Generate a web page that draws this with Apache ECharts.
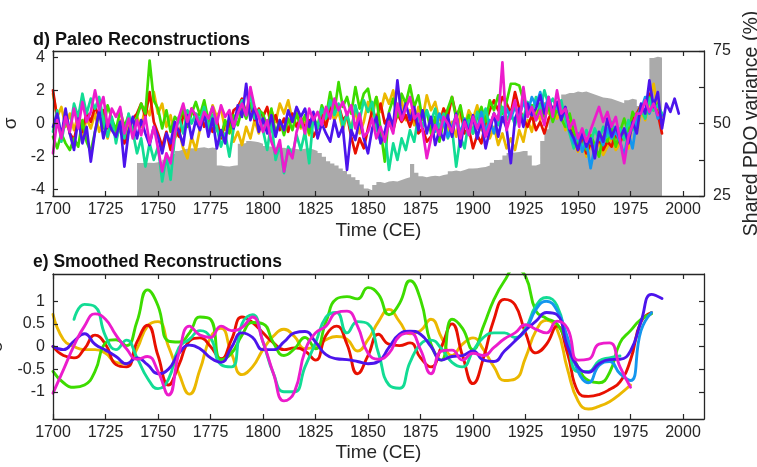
<!DOCTYPE html>
<html><head><meta charset="utf-8">
<script src="https://cdn.jsdelivr.net/npm/echarts@6/dist/echarts.min.js"></script>
<style>html,body{margin:0;padding:0;background:#fff}#c{width:757px;height:467px}</style>
</head><body><div id="c"></div>
<script>
// ---------- Panel d: annual reconstructions (2-year sampling) ----------
const dStart = 1700, dStep = 2;
const dGreen = [
 -0.8,-1.5,-0.6,-1.2,-1.6, -0.9,-1.4,0.2,-1.1,-1.7, -0.5,0.6,-0.3,1.1,0.3, -0.4,0.8,-0.2,0.5,-0.6,
 0.4,1.2,0.6,3.8,1.4, 0.9,-0.3,0.8,-0.5,0.4, 0.1,0.9,-0.2,0.6,1.3, 0.5,1.4,0.2,1.0,-0.4,
 -0.8,0.2,-0.6,0.5,-0.1, 0.9,0.3,1.2,0.5,0.8, 0.6,-0.3,0.9,-0.6,0.2, -0.7,0.3,-0.4,0.6,-0.2,
 0.5,-0.6,0.3,-0.2,1.1, 0.4,1.9,0.7,2.5,1.0, 1.6,0.6,2.2,0.9,1.8, 2.1,0.8,1.6,-0.4,-2.3,
 0.7,1.5,0.4,1.8,1.2, 2.3,1.0,1.7,0.2,0.8, -0.6,0.4,-1.1,0.1,0.9, 1.6,0.3,1.1,-0.2,0.5,
 -0.6,0.4,1.0,0.1,1.4, 0.8,1.7,0.6,1.3,2.4, 2.4,2.3,1.4,0.6,1.1, 0.2,1.2,0.4,1.0,0.1,
 0.9,0.3,-0.2,0.6,-0.5, -1.2,-0.4,-1.6,-0.7,-1.3, -2.0,-0.8,-1.1,-0.2,-1.4, -0.5,0.3,-0.6,0.7,0.2,
 1.1,0.4,1.6,0.8,1.2, 0.5];
const dYellow = [
 1.8,0.4,1.0,-0.2,0.6, -0.4,0.5,-0.8,0.3,-0.3, 0.6,-0.5,0.2,-0.9,0.1, -0.7,0.2,-1.1,0.0,-0.6,
 0.4,-0.2,1.0,0.5,1.9, 0.6,1.2,-0.2,0.5,-0.9, -0.4,-1.5,-2.1,-0.8,-1.6, -0.3,0.6,-0.2,1.1,0.4,
 0.9,-0.4,0.3,-1.1,-0.5, -1.3,-0.2,-0.9,0.2,-0.6, 0.5,-0.3,0.8,0.1,1.2, 0.6,1.4,0.2,0.8,-0.3,
 0.3,-0.7,0.4,-0.2,0.6, -0.1,0.9,0.2,0.7,-0.4, 0.5,-0.3,0.8,-0.6,0.1, 1.3,0.4,1.6,0.7,1.8,
 1.2,2.0,0.6,1.4,0.2, 0.8,-0.1,1.0,0.3,1.7, 0.8,1.3,0.2,0.9,-0.5, 0.1,-0.8,0.6,-0.2,0.8,
 0.3,1.1,-0.4,0.5,-0.9, -0.2,-1.3,-0.6,-1.5,-0.9, -1.6,-0.4,-1.1,0.2,-0.5, 0.8,0.2,1.2,0.6,1.0,
 0.3,0.8,-0.4,0.2,-1.1, -1.7,-1.0,-2.0,-1.3,-1.8, -1.1,-1.9,-1.4,-0.8,-1.6, -1.2,-0.4,-1.5,0.3,-0.5,
 0.7,0.2,1.3,2.4,0.9, 0.4];
const dRed = [
 2.0,0.3,-0.8,0.5,-0.6, -1.0,0.2,-0.5,0.7,0.1, 1.0,0.4,0.8,-0.3,0.2, -0.9,-0.2,-1.2,-0.5,0.3,
 0.6,1.2,0.4,1.9,0.1, -0.6,-1.4,-0.5,-1.6,-0.3, -0.8,0.5,0.1,0.9,0.3, 0.7,-0.2,0.4,-0.5,0.2,
 -0.9,0.1,-0.2,0.8,1.0, 1.5,0.6,1.2,0.2,0.9, 0.4,1.0,-0.2,0.5,-0.4, 0.3,-0.5,0.6,-0.2,0.4,
 -0.3,0.2,-0.8,-0.3,0.5, -0.2,1.0,0.6,1.1,0.2, 0.5,-0.8,-1.8,-0.9,-1.5, -0.3,0.8,0.3,1.2,0.0,
 0.4,-0.4,0.6,0.1,0.5, -0.2,0.6,-0.6,-0.3,-1.1, -0.8,0.2,-0.5,0.9,0.4, 1.6,0.5,0.9,-0.6,-0.3,
 -1.5,-0.7,-1.2,0.1,0.8, 1.4,0.8,1.6,1.2,0.6, 1.9,0.9,0.3,-0.2,0.5, -0.4,0.1,-0.6,0.3,0.8,
 1.0,0.4,0.9,-0.3,-0.8, -1.6,-0.9,-1.8,-1.2,-1.5, -0.9,-1.6,-1.1,-1.4,-0.6, -1.2,-0.5,-1.0,0.2,0.6,
 1.1,0.5,1.8,1.2,0.6, -0.6];
const dTeal = [
 -0.5,0.8,-1.1,0.3,-0.4, 1.2,0.4,1.8,0.6,1.5, 0.9,1.6,0.2,-0.8,0.4, -1.2,0.1,-0.9,0.6,-0.5,
 -1.8,-0.9,-2.6,-1.2,-2.2, -1.4,-3.5,-2.0,-3.4,-0.8, 0.4,-0.6,0.8,0.0,0.6, 0.2,1.0,-0.3,0.5,-0.2,
 -1.4,-0.6,-2.0,-0.3,0.6, 1.4,0.5,1.8,0.3,0.8, -0.4,-1.6,0.1,-2.2,-1.3, -3.0,-1.4,-1.9,-0.7,-1.6,
 -0.5,-2.4,0.4,-0.3,0.9, 0.3,1.4,0.5,1.2,-0.2, 0.6,-0.5,1.1,0.2,1.4, 0.7,1.3,-0.3,-1.1,-0.5,
 -2.8,-1.2,-2.2,-0.9,-1.6, -0.4,-1.1,0.5,-0.2,0.8, 0.1,0.9,-0.4,0.6,-0.9, -0.3,-2.6,-0.8,-1.5,0.2,
 -0.6,0.7,0.1,0.9,-0.2, 0.6,-0.1,1.0,0.2,0.7, -0.1,0.8,0.3,1.3,0.5, 1.6,0.8,2.0,1.1,1.5,
 0.9,1.4,0.2,-0.6,-1.5, -0.8,-1.6,-0.4,-1.2,-0.3, -1.0,-0.2,-0.8,0.1,-0.6, -0.3,-1.0,0.2,-0.4,0.5,
 0.9,0.3,1.5,0.8,1.1, 0.6];
const dLightBlueStart = 1880;
const dLightBlue = [
 0.2,-0.5,0.6,0.0,-0.8, -0.2,0.5,-0.6,0.3,-0.4, 0.4,-0.3,0.7,-0.5,0.2, -0.6,0.5,0.1,0.9,0.3,
 1.0,0.4,1.3,0.6,1.6, 1.1,1.9,0.9,1.6,0.7, 1.2,0.4,0.8,-0.4,-1.2, -0.6,-1.7,-1.1,-2.7,-1.4,
 -0.7,-1.3,-0.3,-0.9,-0.5, -1.1,-1.9,-0.6,-1.5,0.2, 0.8,1.6,0.6,1.4,0.3, 0.5];
const dViolet = [
 -0.2,0.6,-0.8,0.9,-0.6, -1.6,0.3,-1.2,-0.2,-2.3, -0.5,0.8,-0.9,0.2,-0.4, -0.8,0.1,-2.6,-0.5,0.4,
 -0.9,0.2,-0.6,-1.3,-0.2, -0.8,-1.8,-0.6,-1.2,0.1, -0.5,-1.3,0.5,-0.9,0.2, -0.4,0.6,-0.8,0.3,-1.5,
 -0.4,-1.2,0.6,-0.3,1.1, 0.4,2.4,0.2,1.0,-0.5, 0.3,-0.6,0.5,-0.8,0.2, -0.4,0.8,0.1,1.0,0.4,
 0.9,-0.2,0.7,-0.9,0.0, -0.6,-1.1,0.2,-0.8,-0.2, -2.8,-0.4,-1.0,0.3,-0.9, -1.8,-0.3,0.4,-1.2,-0.5,
 0.6,-0.2,2.6,0.3,1.2, 0.2,1.0,-0.4,0.8,-0.6, 0.4,-1.3,-0.4,-1.0,0.5, -0.8,0.6,-1.4,0.2,-0.6,
 0.5,-0.9,0.2,-1.5,-0.4, 0.6,-0.8,0.4,-0.3,-2.4, 0.3,0.9,-0.2,1.2,0.5, 0.9,1.7,0.6,1.4,0.8,
 1.3,0.2,1.0,-0.4,-0.9, -1.6,-0.6,-1.4,-0.9,-2.1, -0.5,-1.1,0.3,-0.8,-0.2, -0.9,-0.3,-1.2,0.1,-0.6,
 1.2,0.6,2.6,1.0,1.9, -0.3,1.2,0.7,1.5,0.6];
const dMagenta = [
 -1.8,0.2,-0.9,0.4,-0.5, 0.9,-0.3,1.3,0.1,0.7, 2.0,0.8,1.6,-0.2,0.9, 0.4,1.0,-0.6,0.3,-0.9,
 0.2,-0.7,0.4,-1.2,-0.2, -1.5,-2.9,-1.8,-2.4,-0.6, 0.4,1.2,0.1,0.9,0.5, -0.1,0.7,0.3,1.0,0.0,
 1.1,0.4,0.8,-0.2,0.6, 1.2,0.5,2.2,1.0,0.4, -0.5,0.2,-1.1,-1.8,-1.0, -2.9,-1.6,-2.1,-0.5,0.3,
 -0.6,0.9,0.2,0.7,-0.1, 1.0,0.3,1.5,0.8,1.3, 0.5,1.1,-0.3,0.6,-0.8, -0.5,0.3,-0.9,-0.2,-1.1,
 0.1,-0.6,1.2,0.2,0.9, 1.6,0.3,0.6,-0.4,-2.1, -0.9,-0.1,-0.7,0.4,0.0, -0.5,0.5,-0.9,0.1,-0.7,
 0.4,-0.3,0.3,-0.8,-0.1, 0.6,0.2,3.7,-0.4,0.5, 1.4,-0.2,2.2,0.4,1.0, 0.2,0.8,-0.1,1.6,0.4,
 2.0,0.6,0.9,-0.3,0.2, -0.9,-0.3,-1.1,-0.4,0.3, 1.0,0.1,0.7,-0.2,0.4, -1.0,-2.4,-0.8,-0.1,0.6,
 0.6,1.4,0.7,1.2,0.5];
// Shared PDO variance (%), right axis
const pdoStart = 1740;
const pdoShared = [
 36.4,36.4,36.5,36.4,36.6, 36.8,37.5,38.5,39.5,40.5, 41.0,41.3,41.5,41.4,41.6, 41.8,41.5,41.7,41.5,35.5,
 35.3,35.2,35.4,35.6,43.0, 43.3,44.0,43.8,43.5,43.0, 42.2,42.0,41.8,41.5,41.6, 41.3,41.5,41.2,41.0,41.3,
 41.5,41.0,40.5,39.8,38.5, 37.0,36.2,35.5,34.5,33.6, 32.5,31.5,30.5,29.0,27.6, 27.0,28.8,29.8,29.5,30.0,
 30.2,30.0,30.5,31.0,31.5, 36.0,33.0,31.8,31.5,31.8, 32.0,31.8,32.2,32.5,33.5, 33.8,33.5,34.0,34.5,34.5,
 34.6,34.8,35.0,35.5,36.5, 37.4,37.5,39.0,39.8,40.0, 40.2,40.5,40.5,39.0,35.5, 36.0,44.0,48.0,52.0,55.0,
 58.0,60.0,60.5,60.5,61.0, 60.8,61.0,60.5,60.0,59.5, 59.0,58.8,58.5,58.0,57.5, 57.0,58.0,58.5,58.2,56.0,
 55.0,54.6,72.6,73.0,72.8, 73.0];

// ---------- Panel e: smoothed reconstructions (5-year sampling) ----------
const eStep = 5;
const eGreen = [-0.55,-0.8,-0.9,-0.85,-0.55,0.08,0.15,0.02,0.55,1.25,0.9,0.12,0.1,0.3,0.65,0.6,-0.29,-0.15,0.25,0.53,
 0.5,0.08,-0.2,-0.05,0.2,-0.05,0.55,1.05,1.1,1.05,1.3,1.15,0.7,0.95,1.45,1.04,0.05,-0.3,0.6,0.4,
 -0.07,0.45,1.04,1.45,1.72,1.55,0.78,0.62,0.5,0.05,-0.45,-0.75,-0.8,-0.58,0.08,0.35,0.6,0.72];
const eYellow = [0.71,0.15,0.0,-0.07,-0.07,-0.15,-0.35,-0.38,-0.05,0.45,0.55,0.0,-0.6,-1.05,-0.51,0.2,0.4,-0.15,-0.62,-0.45,
 -0.07,0.23,0.38,0.22,-0.05,0.0,0.15,0.22,0.16,-0.1,0.15,0.55,0.82,0.55,0.28,0.35,0.6,0.2,-0.2,0.05,
 0.19,-0.07,-0.45,-0.75,-0.72,-0.25,0.35,0.58,0.38,-0.5,-1.2,-1.38,-1.32,-1.22,-1.05,-0.85];
const eRed = [0.0,-0.2,-0.25,-0.05,0.25,0.05,-0.4,-0.45,0.1,0.47,-0.2,-0.85,-0.4,0.12,0.19,0.0,-0.27,0.15,0.65,0.53,
 0.3,0.08,-0.07,-0.03,-0.1,-0.3,0.25,0.45,0.05,-0.6,-0.2,0.27,0.05,0.02,0.08,-0.25,-0.45,0.0,0.5,-0.2,
 -0.82,-0.25,0.6,1.04,0.92,0.3,-0.14,0.05,0.45,-0.15,-1.0,-1.1,-1.06,-0.95,-0.78,-0.3,0.55,0.75];
const eTealStart = 1710;
const eTeal = [0.6,0.93,0.88,0.23,-0.07,0.14,-0.25,-0.7,-0.93,-0.72,-0.02,0.16,0.35,0.2,-0.4,-0.45,0.5,0.7,
 0.1,-0.6,-1.0,-1.0,-0.45,0.08,0.65,0.75,0.3,0.55,0.5,-0.15,-0.85,-0.92,-0.35,0.05,0.14,-0.05,-0.35,-0.45,
 -0.1,0.2,0.3,0.3,0.2,0.4,0.9,1.08,0.9,0.1,-0.55,-0.55,-0.32,-0.25,-0.21];
const eLightBlueStart = 1920;
const eLightBlue = [0.15,0.35,0.82,1.0,0.8,0.2,-0.55,-0.8,-0.42,-0.33,-0.6,-0.75,0.35,0.75];
const eViolet = [0.0,-0.07,0.12,0.28,0.05,-0.08,-0.22,-0.38,-0.25,-0.4,-0.6,-0.5,-0.15,0.03,-0.05,-0.25,-0.35,-0.02,0.3,0.2,
 -0.07,-0.07,0.1,0.3,0.33,0.1,-0.18,-0.27,-0.29,-0.33,-0.38,-0.33,-0.02,0.27,0.34,0.27,0.0,-0.3,-0.22,-0.2,
 -0.1,-0.3,-0.33,-0.1,0.12,0.36,0.56,0.75,0.7,0.0,-0.45,-0.57,-0.38,-0.29,-0.28,-0.1,0.55,1.15,1.06];
const eMagenta = [-1.03,-0.51,0.02,0.45,0.72,0.6,0.25,-0.05,-0.28,-0.22,-0.55,-1.07,-0.14,0.45,0.25,0.2,0.45,0.35,0.42,0.65,
 0.1,-0.6,-1.2,-1.0,-0.1,0.3,0.45,0.75,0.78,0.45,-0.15,-0.28,-0.15,0.23,0.3,-0.07,-0.6,-0.1,-0.08,-0.3,
 -0.15,-0.2,-0.02,0.17,0.3,0.48,0.38,0.3,0.56,0.4,-0.3,-0.28,0.05,0.08,-0.45,-0.9];

// tick values
const xTicks = [1700,1725,1750,1775,1800,1825,1850,1875,1900,1925,1950,1975,2000];
const dYTicks = [-4,-2,0,2,4];
const pdoTicks = [25,37.5,50,62.5,75];
const pdoLabels = [25,50,75];
const eYTicks = [-1,-0.5,0,0.5,1];

const COLORS = {green:'#3ddc00', yellow:'#ebb800', red:'#e81000', teal:'#12dc94',
  lightblue:'#1496ee', violet:'#4c14ec', magenta:'#ec1ccc'};

function pts(start, step, vals){ return vals.map((v,i)=>[start+i*step, v]); }

const FONT = '"Liberation Sans", Arial, Helvetica, sans-serif';
const AX = '#262626';
const plain = v => String(v);

function xAx(grid, pos, withLabels, nameGap){
  const a = {type:'value', gridIndex:grid, position:pos, min:1700, max:2010, z:10,
    axisLine:{show:true, onZero:false, lineStyle:{color:AX, width:1.3}},
    axisTick:{show:true, inside:true, length:5, customValues:xTicks, lineStyle:{color:AX, width:1.2}},
    axisLabel:{show:withLabels, customValues:xTicks, formatter:plain, fontSize:16, margin:6, color:AX, fontFamily:FONT},
    splitLine:{show:false}};
  if (withLabels){ a.name='Time (CE)'; a.nameLocation='middle'; a.nameGap=nameGap;
    a.nameTextStyle={fontSize:19, color:AX, fontFamily:FONT}; }
  return a;
}
function yAx(grid, pos, min, max, ticks, labels, name, nameGap, nameSize){
  const a = {type:'value', gridIndex:grid, position:pos, min:min, max:max, z:10,
    axisLine:{show:true, onZero:false, lineStyle:{color:AX, width:1.3}},
    axisTick:{show:true, inside:true, length:5, customValues:ticks, lineStyle:{color:AX, width:1.2}},
    axisLabel:{show:!!labels, customValues:labels||ticks, formatter:plain, fontSize:16, margin:pos==='left'?8:9, color:AX, fontFamily:FONT},
    splitLine:{show:false}};
  if (name){ a.name=name; a.nameLocation='middle'; a.nameGap=nameGap;
    a.nameTextStyle={fontSize:nameSize, color:AX, fontFamily:FONT}; }
  return a;
}
function ln(name, xi, yi, data, color, w, smooth){
  return {name:name, type:'line', xAxisIndex:xi, yAxisIndex:yi, data:data, smooth:smooth,
    showSymbol:false, symbol:'none', connectNulls:false, clip:true,
    lineStyle:{color:color, width:w, join:'round', cap:'round'}, itemStyle:{color:color}};
}

const option = {
  animation:false,
  backgroundColor:'#fff',
  title:[
    {text:'d) Paleo Reconstructions', left:33, top:31, padding:0,
      textStyle:{fontSize:18, fontWeight:'bold', color:'#111', fontFamily:FONT}},
    {text:'e) Smoothed Reconstructions', left:33, top:253, padding:0,
      textStyle:{fontSize:17.5, fontWeight:'bold', color:'#111', fontFamily:FONT}}
  ],
  grid:[
    {left:53, right:53, top:51, height:145, containLabel:false, outerBoundsMode:'none'},
    {left:53, right:53, top:274, height:145, containLabel:false, outerBoundsMode:'none'}
  ],
  xAxis:[ xAx(0,'bottom',true,25), xAx(0,'top',false), xAx(1,'bottom',true,24), xAx(1,'top',false) ],
  yAxis:[
    yAx(0,'left',-4.38,4.38,dYTicks,dYTicks,'σ',25,19),
    yAx(0,'right',25,75,pdoTicks,pdoLabels,'Shared PDO variance (%)',35,19.5),
    yAx(1,'left',-1.6,1.6,eYTicks,eYTicks,'σ',34,19),
    yAx(1,'right',-1.6,1.6,eYTicks,null)
  ],
  series:[
    {name:'PDO shared', type:'line', xAxisIndex:0, yAxisIndex:1, step:'end',
      data:pts(pdoStart, dStep, pdoShared), showSymbol:false, symbol:'none',
      lineStyle:{width:0, color:'#aaaaaa'}, areaStyle:{color:'#aaaaaa', opacity:1, origin:'start'}, z:1},
    ln('yellow',0,0,pts(dStart,dStep,dYellow),COLORS.yellow,2.7,false),
    ln('red',0,0,pts(dStart,dStep,dRed),COLORS.red,2.7,false),
    ln('green',0,0,pts(dStart,dStep,dGreen),COLORS.green,2.7,false),
    ln('teal',0,0,pts(dStart,dStep,dTeal),COLORS.teal,2.7,false),
    ln('lightblue',0,0,pts(dLightBlueStart,dStep,dLightBlue),COLORS.lightblue,2.7,false),
    ln('violet',0,0,pts(dStart,dStep,dViolet),COLORS.violet,2.7,false),
    ln('magenta',0,0,pts(dStart,dStep,dMagenta),COLORS.magenta,2.7,false),

    ln('yellow-s',2,2,pts(1700,eStep,eYellow),COLORS.yellow,2.9,true),
    ln('red-s',2,2,pts(1700,eStep,eRed),COLORS.red,2.9,true),
    ln('green-s',2,2,pts(1700,eStep,eGreen),COLORS.green,2.9,true),
    ln('teal-s',2,2,pts(eTealStart,eStep,eTeal),COLORS.teal,2.9,true),
    ln('lightblue-s',2,2,pts(eLightBlueStart,eStep,eLightBlue),COLORS.lightblue,2.9,true),
    ln('violet-s',2,2,pts(1700,eStep,eViolet),COLORS.violet,2.9,true),
    ln('magenta-s',2,2,pts(1700,eStep,eMagenta),COLORS.magenta,2.9,true)
  ]
};
const chart = echarts.init(document.getElementById('c'));
chart.setOption(option);
</script></body></html>
